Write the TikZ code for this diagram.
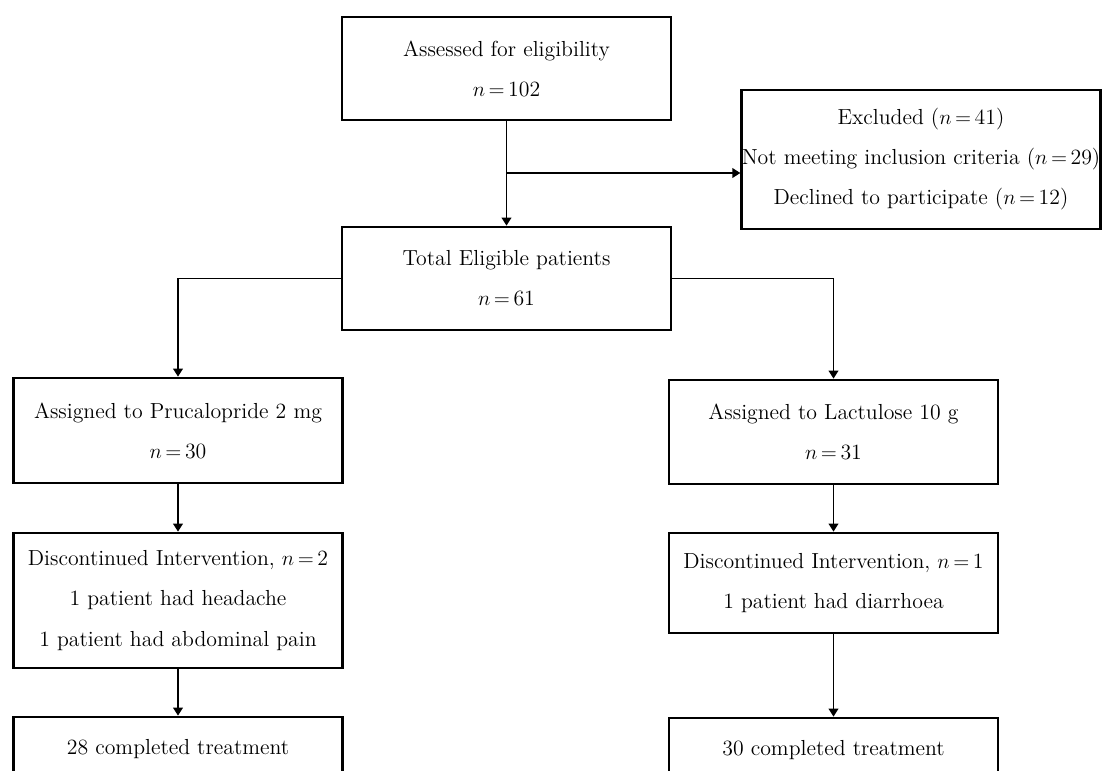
\documentclass[tikz,border=0pt]{standalone}
\usetikzlibrary{arrows.meta}
\begin{document}
\begin{tikzpicture}[x=0.02cm, y=-0.02cm,
  >={Triangle[length=4.5pt,width=5.5pt]},
  flowbox/.style={draw, line width=1.6pt, align=center, inner sep=0pt,
    minimum width=6.58cm, font=\fontsize{12.4}{22.8}\selectfont},
  link/.style={->, line width=0.8pt}]
  \def\Xl{178};
  \def\Xm{506.5};
  \def\Xr{833.5};
  \def\Xe{921};
  \def\Ysplit{173}; % branch to excluded
  \def\nis{$n\,{=}\,$}; % n = ...
  \useasboundingbox (0,0) rectangle (1103,771);
  \clip (0,0) rectangle (1103,771);

        % screening
        \node[flowbox, minimum height=2.06cm] (assess) at (\Xm, 68.5)
          {Assessed for eligibility\\ \nis 102};
        \node[flowbox, minimum height=2.06cm] (total) at (\Xm, 278.5)
          {Total Eligible patients\\ \nis 61};
        \node[flowbox, minimum width=7.16cm, minimum height=2.78cm] (excl) at (\Xe, 159.5)
          {Excluded (\nis 41)\\ Not meeting inclusion criteria (\nis 29)\\ Declined to participate (\nis 12)};

        % prucalopride arm
        \node[flowbox, minimum height=2.1cm] (pruc) at (\Xl, 430.5)
          {Assigned to Prucalopride 2 mg\\ \nis 30};
        \node[flowbox, minimum height=2.7cm] (discL) at (\Xl, 600.5)
          {Discontinued Intervention, \nis 2\\ 1 patient had headache\\ 1 patient had abdominal pain};
        \node[flowbox, minimum height=2.0cm] (compL) at (\Xl, 767)
          {28 completed treatment\\ \mbox{}};

        % lactulose arm
        \node[flowbox, minimum height=2.08cm] (lact) at (\Xr, 432)
          {Assigned to Lactulose 10 g\\ \nis 31};
        \node[flowbox, minimum height=2.0cm] (discR) at (\Xr, 583)
          {Discontinued Intervention, \nis 1\\ 1 patient had diarrhoea};
        \node[flowbox, minimum height=2.0cm] (compR) at (\Xr, 768)
          {30 completed treatment\\ \mbox{}};

	% connectors
	\coordinate (split) at (\Xm, \Ysplit);
	\draw[link] (assess) -- (total);
	\draw[link] (split) -- (split -| excl.west);
	\draw[link] (total.west) -| (pruc.north);
	\draw[link] (total.east) -| (lact.north);
	\draw[link] (pruc) -- (discL);
	\draw[link] (discL) -- (compL);
	\draw[link] (lact) -- (discR);
	\draw[link] (discR) -- (compR);
\end{tikzpicture}
\end{document}
